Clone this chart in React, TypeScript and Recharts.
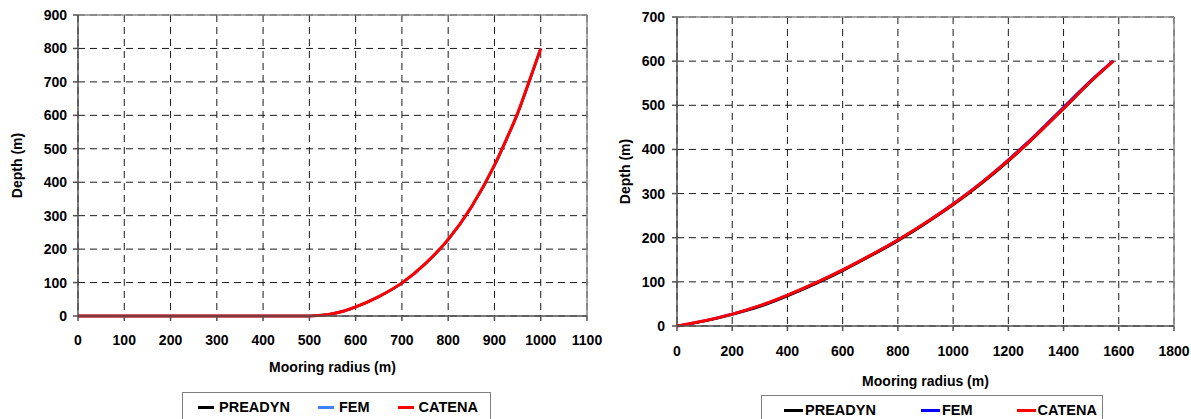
import { LineChart, Line, XAxis, YAxis, CartesianGrid, ReferenceLine, Legend } from 'recharts'

// left panel: mooring line profile, 800 m water depth
const LEFT_RADIUS = [0, 100, 200, 300, 400, 500, 525, 550, 575, 600, 650, 700, 750, 800, 850, 900, 925, 950, 975, 1000]
const LEFT_PREADYN = [0, 0, 0, 0, 0, 0, 2, 7, 15, 27, 58, 98, 155, 228, 325, 450, 525, 605, 700, 800]
const LEFT_FEM = [0, 0, 0, 0, 0, 0, 2, 7, 15, 27, 58, 98, 155, 228, 325, 450, 525, 605, 700, 800]
const LEFT_CATENA = [0, 0, 0, 0, 0, 0, 2, 7, 15, 27, 58, 99, 156, 229, 326, 451, 526, 606, 702, 800]
const LEFT_X_TICKS = [0, 100, 200, 300, 400, 500, 600, 700, 800, 900, 1000, 1100]
const LEFT_Y_TICKS = [0, 100, 200, 300, 400, 500, 600, 700, 800, 900]

// right panel: 600 m water depth
const RIGHT_RADIUS = [0, 100, 200, 300, 400, 500, 600, 700, 800, 900, 1000, 1100, 1200, 1300, 1400, 1500, 1580]
const RIGHT_PREADYN = [0, 11, 26, 44, 68, 95, 125, 158, 193, 232, 274, 321, 373, 431, 492, 554, 600]
const RIGHT_FEM = [0, 12, 27, 46, 70, 97, 127, 160, 195, 234, 277, 324, 377, 434, 496, 557, 601]
const RIGHT_CATENA = [0, 12, 27, 46, 70, 97, 127, 160, 195, 234, 276, 323, 375, 432, 493, 555, 600]
const RIGHT_X_TICKS = [0, 200, 400, 600, 800, 1000, 1200, 1400, 1600, 1800]
const RIGHT_Y_TICKS = [0, 100, 200, 300, 400, 500, 600, 700]

const SERIES_ORDER = ['PREADYN', 'FEM', 'CATENA']

const FONT = "'Liberation Sans', Arial, Helvetica, sans-serif"
const TICK = { fill: '#000', fontSize: 14, fontWeight: 700, fontFamily: FONT }
const AXIS = { stroke: '#505050', strokeWidth: 1.5 }
const TITLE = { fontSize: 14, fontWeight: 700, fill: '#000', fontFamily: FONT }

function rows(r: number[], a: number[], b: number[], c: number[]) {
  return r.map((x, i) => ({ r: x, preadyn: a[i], fem: b[i], catena: c[i] }))
}

interface BoxOpts {
  lineW: number
  pad: number
  gap: number
  itemGaps: number[]
}

function makeLegend({ lineW, pad, gap, itemGaps }: BoxOpts) {
  return (props: any) => {
    const payload = [...(props.payload || [])].sort(
      (a: any, b: any) => SERIES_ORDER.indexOf(a.value) - SERIES_ORDER.indexOf(b.value)
    )
    return (
      <div
        style={{
          border: '1px solid #808080',
          height: 40,
          boxSizing: 'border-box',
          display: 'flex',
          alignItems: 'flex-start',
          paddingLeft: pad,
          paddingTop: 6,
          fontFamily: FONT,
          fontWeight: 700,
          fontSize: 14.5,
          color: '#000',
          background: '#fff',
        }}
      >
        {payload.map((p: any, i: number) => (
          <div key={p.value} style={{ display: 'flex', alignItems: 'center', marginLeft: i === 0 ? 0 : itemGaps[i - 1] }}>
            <span style={{ display: 'inline-block', width: lineW, height: 3, background: p.color, marginRight: gap }} />
            <span style={{ lineHeight: '16px' }}>{p.value}</span>
          </div>
        ))}
      </div>
    )
  }
}

export default function App() {
  const leftData = rows(LEFT_RADIUS, LEFT_PREADYN, LEFT_FEM, LEFT_CATENA)
  const rightData = rows(RIGHT_RADIUS, RIGHT_PREADYN, RIGHT_FEM, RIGHT_CATENA)

  return (
    <div style={{ position: 'fixed', left: 0, top: 0, width: 1191, height: 419, background: '#fff', overflow: 'hidden' }}>
      {/* right chart */}
      <div style={{ position: 'absolute', left: 600, top: 0 }}>
        <LineChart width={591} height={419} data={rightData} margin={{ top: 17, right: 17, left: 8, bottom: 53 }}>
          <CartesianGrid stroke="#1a1a1a" strokeDasharray="7 5" horizontalValues={RIGHT_Y_TICKS} verticalValues={RIGHT_X_TICKS} />
          <ReferenceLine y={700} stroke="#8a8a8a" strokeWidth={1.5} />
          <ReferenceLine x={1800} stroke="#8a8a8a" strokeWidth={1.5} />
          <XAxis
            dataKey="r"
            type="number"
            domain={[0, 1800]}
            ticks={RIGHT_X_TICKS}
            height={40}
            tick={TICK}
            tickSize={5}
            tickMargin={15}
            axisLine={AXIS}
            tickLine={AXIS}
            interval={0}
            label={{ value: 'Mooring radius (m)', position: 'bottom', offset: 10, style: TITLE }}
          />
          <YAxis
            type="number"
            domain={[0, 700]}
            ticks={RIGHT_Y_TICKS}
            width={69}
            tick={TICK}
            tickSize={5}
            tickMargin={7}
            axisLine={AXIS}
            tickLine={AXIS}
            interval={0}
            label={{ value: 'Depth (m)', angle: -90, position: 'insideLeft', offset: 17, style: { ...TITLE, textAnchor: 'middle' } }}
          />
          <Line type="monotone" dataKey="preadyn" name="PREADYN" stroke="#000000" strokeWidth={2.5} dot={false} isAnimationActive={false} />
          <Line type="monotone" dataKey="fem" name="FEM" stroke="#0000ff" strokeWidth={2.5} dot={false} isAnimationActive={false} />
          <Line type="monotone" dataKey="catena" name="CATENA" stroke="#ff0000" strokeWidth={3} dot={false} isAnimationActive={false} />
          <Legend
            verticalAlign="middle"
            align="center"
            wrapperStyle={{ left: 161, top: 395, width: 342, height: 40 }}
            content={makeLegend({ lineW: 19, pad: 22, gap: 2, itemGaps: [45, 44] })}
          />
        </LineChart>
      </div>

      {/* left chart, drawn wider so the last tick label is not clipped */}
      <div style={{ position: 'absolute', left: 0, top: 0 }}>
        <LineChart width={630} height={419} data={leftData} margin={{ top: 15, right: 43, left: 8, bottom: 63 }}>
          <CartesianGrid stroke="#1a1a1a" strokeDasharray="7 5" horizontalValues={LEFT_Y_TICKS} verticalValues={LEFT_X_TICKS} />
          <ReferenceLine y={900} stroke="#8a8a8a" strokeWidth={1.5} />
          <ReferenceLine x={1100} stroke="#8a8a8a" strokeWidth={1.5} />
          <XAxis
            dataKey="r"
            type="number"
            domain={[0, 1100]}
            ticks={LEFT_X_TICKS}
            height={40}
            tick={TICK}
            tickSize={5}
            tickMargin={14}
            axisLine={AXIS}
            tickLine={AXIS}
            interval={0}
            label={{ value: 'Mooring radius (m)', position: 'bottom', offset: 6, style: TITLE }}
          />
          <YAxis
            type="number"
            domain={[0, 900]}
            ticks={LEFT_Y_TICKS}
            width={70}
            tick={TICK}
            tickSize={5}
            tickMargin={6}
            axisLine={AXIS}
            tickLine={AXIS}
            interval={0}
            label={{ value: 'Depth (m)', angle: -90, position: 'insideLeft', offset: 9, style: { ...TITLE, textAnchor: 'middle' } }}
          />
          <Line type="monotone" dataKey="preadyn" name="PREADYN" stroke="#000000" strokeWidth={2.5} dot={false} isAnimationActive={false} />
          <Line type="monotone" dataKey="fem" name="FEM" stroke="#4080ff" strokeWidth={2.5} dot={false} isAnimationActive={false} />
          <Line type="monotone" dataKey="catena" name="CATENA" stroke="#ff0000" strokeWidth={3} dot={false} isAnimationActive={false} />
          <Legend
            verticalAlign="middle"
            align="center"
            wrapperStyle={{ left: 182, top: 392, width: 309, height: 40 }}
            content={makeLegend({ lineW: 16, pad: 15, gap: 5, itemGaps: [28, 28] })}
          />
        </LineChart>
      </div>
    </div>
  )
}
